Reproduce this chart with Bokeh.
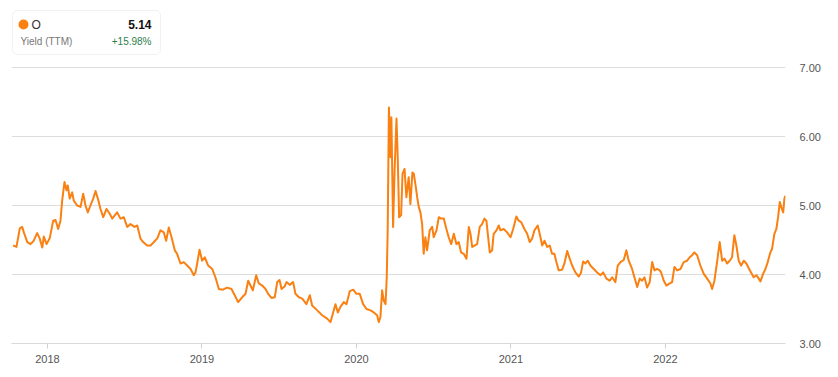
from bokeh.plotting import figure
from bokeh.models import (Range1d, FixedTicker, NumeralTickFormatter, Label,
                          BoxAnnotation, ColumnDataSource)
from bokeh.embed import file_html
from bokeh.resources import INLINE

# ---- data: decimal year, dividend yield (TTM, %) ----
years = [
    2017.778, 2017.799, 2017.821, 2017.836, 2017.847, 2017.869, 2017.890, 2017.911, 2017.933, 2017.950,
    2017.966, 2017.976, 2017.994, 2018.015, 2018.037, 2018.052, 2018.069, 2018.084, 2018.095, 2018.110,
    2018.123, 2018.131, 2018.144, 2018.160, 2018.170, 2018.192, 2018.214, 2018.231, 2018.246, 2018.261,
    2018.278, 2018.296, 2018.311, 2018.326, 2018.343, 2018.361, 2018.382, 2018.403, 2018.419, 2018.451,
    2018.472, 2018.494, 2018.516, 2018.537, 2018.563, 2018.581, 2018.602, 2018.619, 2018.645, 2018.667,
    2018.688, 2018.710, 2018.731, 2018.753, 2018.768, 2018.785, 2018.803, 2018.824, 2018.839, 2018.861,
    2018.882, 2018.904, 2018.926, 2018.947, 2018.958, 2018.969, 2018.984, 2019.001, 2019.018, 2019.040,
    2019.066, 2019.087, 2019.109, 2019.135, 2019.163, 2019.191, 2019.212, 2019.234, 2019.260, 2019.282,
    2019.299, 2019.314, 2019.329, 2019.351, 2019.368, 2019.390, 2019.411, 2019.428, 2019.450, 2019.471,
    2019.487, 2019.502, 2019.515, 2019.536, 2019.547, 2019.568, 2019.590, 2019.605, 2019.627, 2019.649,
    2019.676, 2019.698, 2019.713, 2019.746, 2019.778, 2019.810, 2019.832, 2019.849, 2019.864, 2019.879,
    2019.896, 2019.918, 2019.935, 2019.957, 2019.979, 2020.000, 2020.021, 2020.043, 2020.065, 2020.091,
    2020.112, 2020.134, 2020.144, 2020.155, 2020.166, 2020.177, 2020.188, 2020.196, 2020.202, 2020.210,
    2020.220, 2020.226, 2020.237, 2020.246, 2020.259, 2020.267, 2020.276, 2020.289, 2020.298, 2020.311,
    2020.323, 2020.338, 2020.349, 2020.362, 2020.371, 2020.384, 2020.393, 2020.403, 2020.414, 2020.425,
    2020.435, 2020.446, 2020.457, 2020.474, 2020.490, 2020.500, 2020.518, 2020.533, 2020.548, 2020.565,
    2020.582, 2020.597, 2020.613, 2020.630, 2020.647, 2020.662, 2020.677, 2020.694, 2020.712, 2020.727,
    2020.738, 2020.749, 2020.764, 2020.781, 2020.798, 2020.813, 2020.828, 2020.841, 2020.850, 2020.863,
    2020.878, 2020.888, 2020.906, 2020.921, 2020.932, 2020.953, 2020.975, 2020.997, 2021.014, 2021.035,
    2021.050, 2021.066, 2021.087, 2021.105, 2021.121, 2021.137, 2021.152, 2021.173, 2021.186, 2021.202,
    2021.217, 2021.234, 2021.251, 2021.266, 2021.281, 2021.294, 2021.309, 2021.331, 2021.346, 2021.364,
    2021.380, 2021.396, 2021.417, 2021.439, 2021.454, 2021.467, 2021.482, 2021.497, 2021.514, 2021.536,
    2021.558, 2021.579, 2021.597, 2021.618, 2021.639, 2021.655, 2021.676, 2021.691, 2021.709, 2021.730,
    2021.747, 2021.762, 2021.784, 2021.799, 2021.817, 2021.833, 2021.849, 2021.864, 2021.881, 2021.898,
    2021.914, 2021.929, 2021.946, 2021.963, 2021.972, 2021.989, 2022.006, 2022.028, 2022.043, 2022.058,
    2022.076, 2022.097, 2022.118, 2022.140, 2022.157, 2022.173, 2022.187, 2022.205, 2022.226, 2022.248,
    2022.270, 2022.291, 2022.302, 2022.317, 2022.334, 2022.351, 2022.367, 2022.382, 2022.399, 2022.416,
    2022.431, 2022.446, 2022.459, 2022.474, 2022.490, 2022.507, 2022.524, 2022.539, 2022.554, 2022.571,
    2022.589, 2022.604, 2022.615, 2022.632, 2022.647, 2022.662, 2022.679, 2022.690, 2022.705, 2022.718,
    2022.729, 2022.740, 2022.749, 2022.762, 2022.770, 2022.776,
]
yields = [
    4.42, 4.40, 4.67, 4.69, 4.61, 4.47, 4.44, 4.49, 4.60, 4.52,
    4.39, 4.55, 4.44, 4.53, 4.78, 4.79, 4.66, 4.78, 5.07, 5.34,
    5.22, 5.29, 5.10, 5.19, 5.07, 5.00, 4.98, 5.17, 5.00, 4.90,
    5.00, 5.10, 5.21, 5.10, 4.95, 4.83, 4.95, 4.88, 4.81, 4.90,
    4.81, 4.83, 4.69, 4.73, 4.69, 4.71, 4.52, 4.47, 4.42, 4.42,
    4.47, 4.52, 4.64, 4.61, 4.49, 4.68, 4.54, 4.35, 4.30, 4.16,
    4.18, 4.13, 4.08, 3.99, 4.03, 4.16, 4.36, 4.20, 4.25, 4.13,
    4.08, 3.96, 3.79, 3.78, 3.81, 3.79, 3.70, 3.60, 3.67, 3.72,
    3.91, 3.84, 3.77, 3.99, 3.87, 3.84, 3.79, 3.72, 3.66, 3.67,
    3.89, 3.92, 3.79, 3.83, 3.89, 3.85, 3.89, 3.72, 3.67, 3.65,
    3.57, 3.70, 3.55, 3.48, 3.41, 3.36, 3.31, 3.45, 3.57, 3.45,
    3.53, 3.60, 3.57, 3.76, 3.78, 3.72, 3.72, 3.57, 3.50, 3.48,
    3.45, 3.41, 3.31, 3.38, 3.77, 3.62, 3.57, 3.96, 4.64, 6.42,
    5.70, 6.28, 4.69, 5.46, 6.26, 5.70, 4.83, 4.86, 5.46, 5.53,
    5.12, 5.41, 5.02, 5.48, 5.46, 5.27, 5.12, 4.98, 4.90, 4.73,
    4.30, 4.54, 4.35, 4.64, 4.69, 4.54, 4.64, 4.83, 4.81, 4.81,
    4.66, 4.54, 4.44, 4.59, 4.44, 4.47, 4.32, 4.30, 4.23, 4.69,
    4.59, 4.40, 4.42, 4.44, 4.69, 4.73, 4.81, 4.78, 4.59, 4.32,
    4.35, 4.59, 4.64, 4.71, 4.64, 4.66, 4.61, 4.54, 4.66, 4.84,
    4.78, 4.76, 4.66, 4.59, 4.47, 4.52, 4.64, 4.71, 4.59, 4.42,
    4.49, 4.40, 4.42, 4.30, 4.30, 4.18, 4.06, 4.07, 4.16, 4.34,
    4.23, 4.13, 4.03, 3.97, 4.03, 4.19, 4.16, 4.20, 4.13, 4.08,
    4.03, 3.99, 4.03, 3.94, 3.91, 3.96, 3.89, 4.13, 4.18, 4.21,
    4.35, 4.20, 4.08, 3.96, 3.82, 3.94, 3.91, 3.96, 3.81, 3.89,
    4.18, 4.06, 4.08, 4.06, 4.03, 3.91, 3.84, 3.87, 3.89, 4.11,
    4.06, 4.08, 4.18, 4.20, 4.25, 4.28, 4.32, 4.28, 4.13, 4.01,
    3.94, 3.87, 3.79, 3.91, 4.18, 4.47, 4.20, 4.23, 4.16, 4.20,
    4.25, 4.57, 4.42, 4.20, 4.13, 4.20, 4.16, 4.09, 4.03, 3.96,
    3.99, 3.94, 3.90, 4.01, 4.08, 4.18, 4.32, 4.37, 4.59, 4.66,
    4.83, 5.05, 4.98, 4.90, 5.10, 5.14,
]
x_ticks = [2018, 2019, 2020, 2021, 2022]
y_ticks = [3, 4, 5, 6, 7]
ticker_name = "O"
metric_name = "Yield (TTM)"
last_value = "5.14"
change_text = "+15.98%"

FONT = "Liberation Sans"
ORANGE = "#fa8011"

# Frame spans the full canvas height above the x axis; the top 67 px hold the legend
H = 377
AXIS_Y = 343            # canvas y of the x axis
PX_PER_UNIT = 69.0
y_top = y_ticks[0] + AXIS_Y / PX_PER_UNIT

p = figure(width=838, height=H, output_backend="svg", toolbar_location=None,
           y_axis_location="right",
           x_range=Range1d(years[0] - 0.011, years[-1] + 0.001),
           y_range=Range1d(y_ticks[0], y_top),
           min_border_left=11, min_border_right=53, min_border_top=0,
           min_border_bottom=H - AXIS_Y)
p.outline_line_color = None
p.background_fill_color = "white"
p.border_fill_color = "white"

src = ColumnDataSource(dict(x=years, y=yields))
p.line("x", "y", source=src, line_color=ORANGE, line_width=2, line_join="round")

# grid
p.xgrid.grid_line_color = None
p.ygrid.grid_line_color = "#dddddd"
p.ygrid.ticker = FixedTicker(ticks=y_ticks)

# x axis
xa = p.xaxis[0]
xa.ticker = FixedTicker(ticks=x_ticks)
xa.formatter = NumeralTickFormatter(format="0")
xa.axis_line_color = "#d9d9d9"
xa.major_tick_line_color = "#d0d0d0"
xa.major_tick_out = 5
xa.major_tick_in = 0
xa.minor_tick_line_color = None
xa.major_label_text_font = FONT
xa.major_label_text_font_size = "11px"
xa.major_label_text_color = "#555555"
xa.major_label_standoff = 6

# y axis (right)
ya = p.yaxis[0]
ya.ticker = FixedTicker(ticks=y_ticks)
ya.formatter = NumeralTickFormatter(format="0.00")
ya.axis_line_color = None
ya.major_tick_line_color = None
ya.minor_tick_line_color = None
ya.major_label_text_font = FONT
ya.major_label_text_font_size = "11px"
ya.major_label_text_color = "#555555"
ya.major_label_standoff = 8

# legend box (canvas units)
p.add_layout(BoxAnnotation(left=12, right=160, top=10, bottom=54,
                           left_units="canvas", right_units="canvas",
                           top_units="canvas", bottom_units="canvas",
                           fill_color="white", fill_alpha=1.0,
                           line_color="#cfcfcf", line_width=1, border_radius=5,
                           level="overlay"))
p.add_layout(BoxAnnotation(left=18, right=28, top=19, bottom=29,
                           left_units="canvas", right_units="canvas",
                           top_units="canvas", bottom_units="canvas",
                           fill_color=ORANGE, fill_alpha=1.0,
                           line_color=None, border_radius=5, level="overlay"))

# labels (screen units relative to frame: origin bottom-left of frame)
frame_left = 11
frame_bottom = AXIS_Y

def lab(text, cx, cy, align, size, color, style="normal"):
    p.add_layout(Label(x=cx - frame_left, y=frame_bottom - cy, x_units="screen", y_units="screen",
                       text=text, text_align=align, text_baseline="middle",
                       text_font=FONT, text_font_size=size, text_color=color,
                       text_font_style=style, level="overlay"))

lab(ticker_name, 31, 24, "left", "12px", "#333333")
lab(last_value, 151, 24, "right", "12px", "#111111", "bold")
lab(metric_name, 20, 41, "left", "10px", "#777777")
lab(change_text, 151, 41, "right", "10px", "#2e7d4a")

open("out.html", "w").write(file_html(p, INLINE))
